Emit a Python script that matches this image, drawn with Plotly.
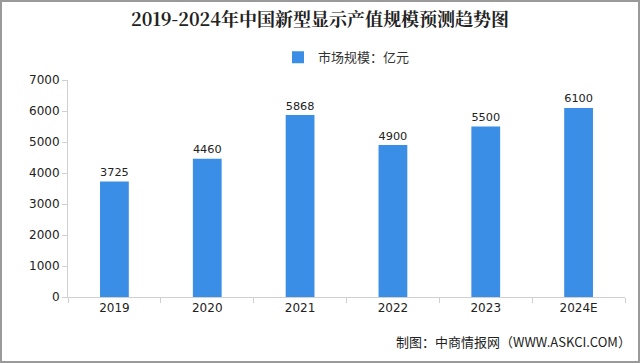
import plotly.graph_objects as go

years = ["2019", "2020", "2021", "2022", "2023", "2024E"]
values = [3725, 4460, 5868, 4900, 5500, 6100]
y_ticks = [0, 1000, 2000, 3000, 4000, 5000, 6000, 7000]

font_cjk = "Noto Sans CJK SC, DejaVu Sans, sans-serif"

fig = go.Figure()
fig.add_trace(go.Bar(
    x=years, y=values, name="市场规模：亿元",
    marker=dict(color="#3A8EE6", line=dict(width=0)),
    width=0.31,
    text=[str(v) for v in values], textposition="outside",
    textfont=dict(size=13.5, color="#222222", family="DejaVu Sans, sans-serif"),
    cliponaxis=False,
))

fig.update_layout(
    width=640, height=363,
    margin=dict(l=68, r=15, t=80, b=66, autoexpand=False),
    paper_bgcolor="white", plot_bgcolor="white",
    title=dict(text="<b>2019-2024年中国新型显示产值规模预测趋势图</b>",
               x=0.5, xanchor="center", y=0.945, yanchor="middle",
               font=dict(size=18, color="#222222", family="Noto Serif CJK SC, Noto Sans CJK SC, serif")),
    showlegend=True,
    legend=dict(orientation="h", x=0.5, xanchor="center", y=1.105, yanchor="middle",
                font=dict(size=13, color="#333333", family=font_cjk),
                itemwidth=30),
    bargap=0.69,
)
fig.update_xaxes(
    showline=True, linecolor="#D0D0D0", linewidth=1,
    ticks="outside", ticklen=5, tickcolor="#D0D0D0",
    tickson="boundaries",
    tickfont=dict(size=12, color="#222222", family="DejaVu Sans, sans-serif"),
    showgrid=False,
)
fig.update_yaxes(
    range=[0, 7000], tickvals=y_ticks,
    showline=True, linecolor="#D0D0D0", linewidth=1,
    ticks="outside", ticklen=5, tickcolor="#D0D0D0",
    tickfont=dict(size=12, color="#222222", family="DejaVu Sans, sans-serif"),
    showgrid=False, zeroline=False,
)
fig.add_annotation(
    text="制图：中商情报网（WWW.ASKCI.COM）",
    xref="paper", yref="paper", x=1.015, y=-0.205, xanchor="right", yanchor="middle",
    showarrow=False, font=dict(size=13, color="#222222", family=font_cjk),
)
fig.add_shape(type="rect", xref="paper", yref="paper",
              x0=-67/557, x1=1+14/557, y0=-65/217, y1=1+79/217,
              line=dict(color="#9A9A9A", width=2), fillcolor="rgba(0,0,0,0)", layer="below")

fig.write_html("out.html", config={"displayModeBar": False},
               post_script="document.body.style.margin='0';document.body.style.overflow='hidden';")
